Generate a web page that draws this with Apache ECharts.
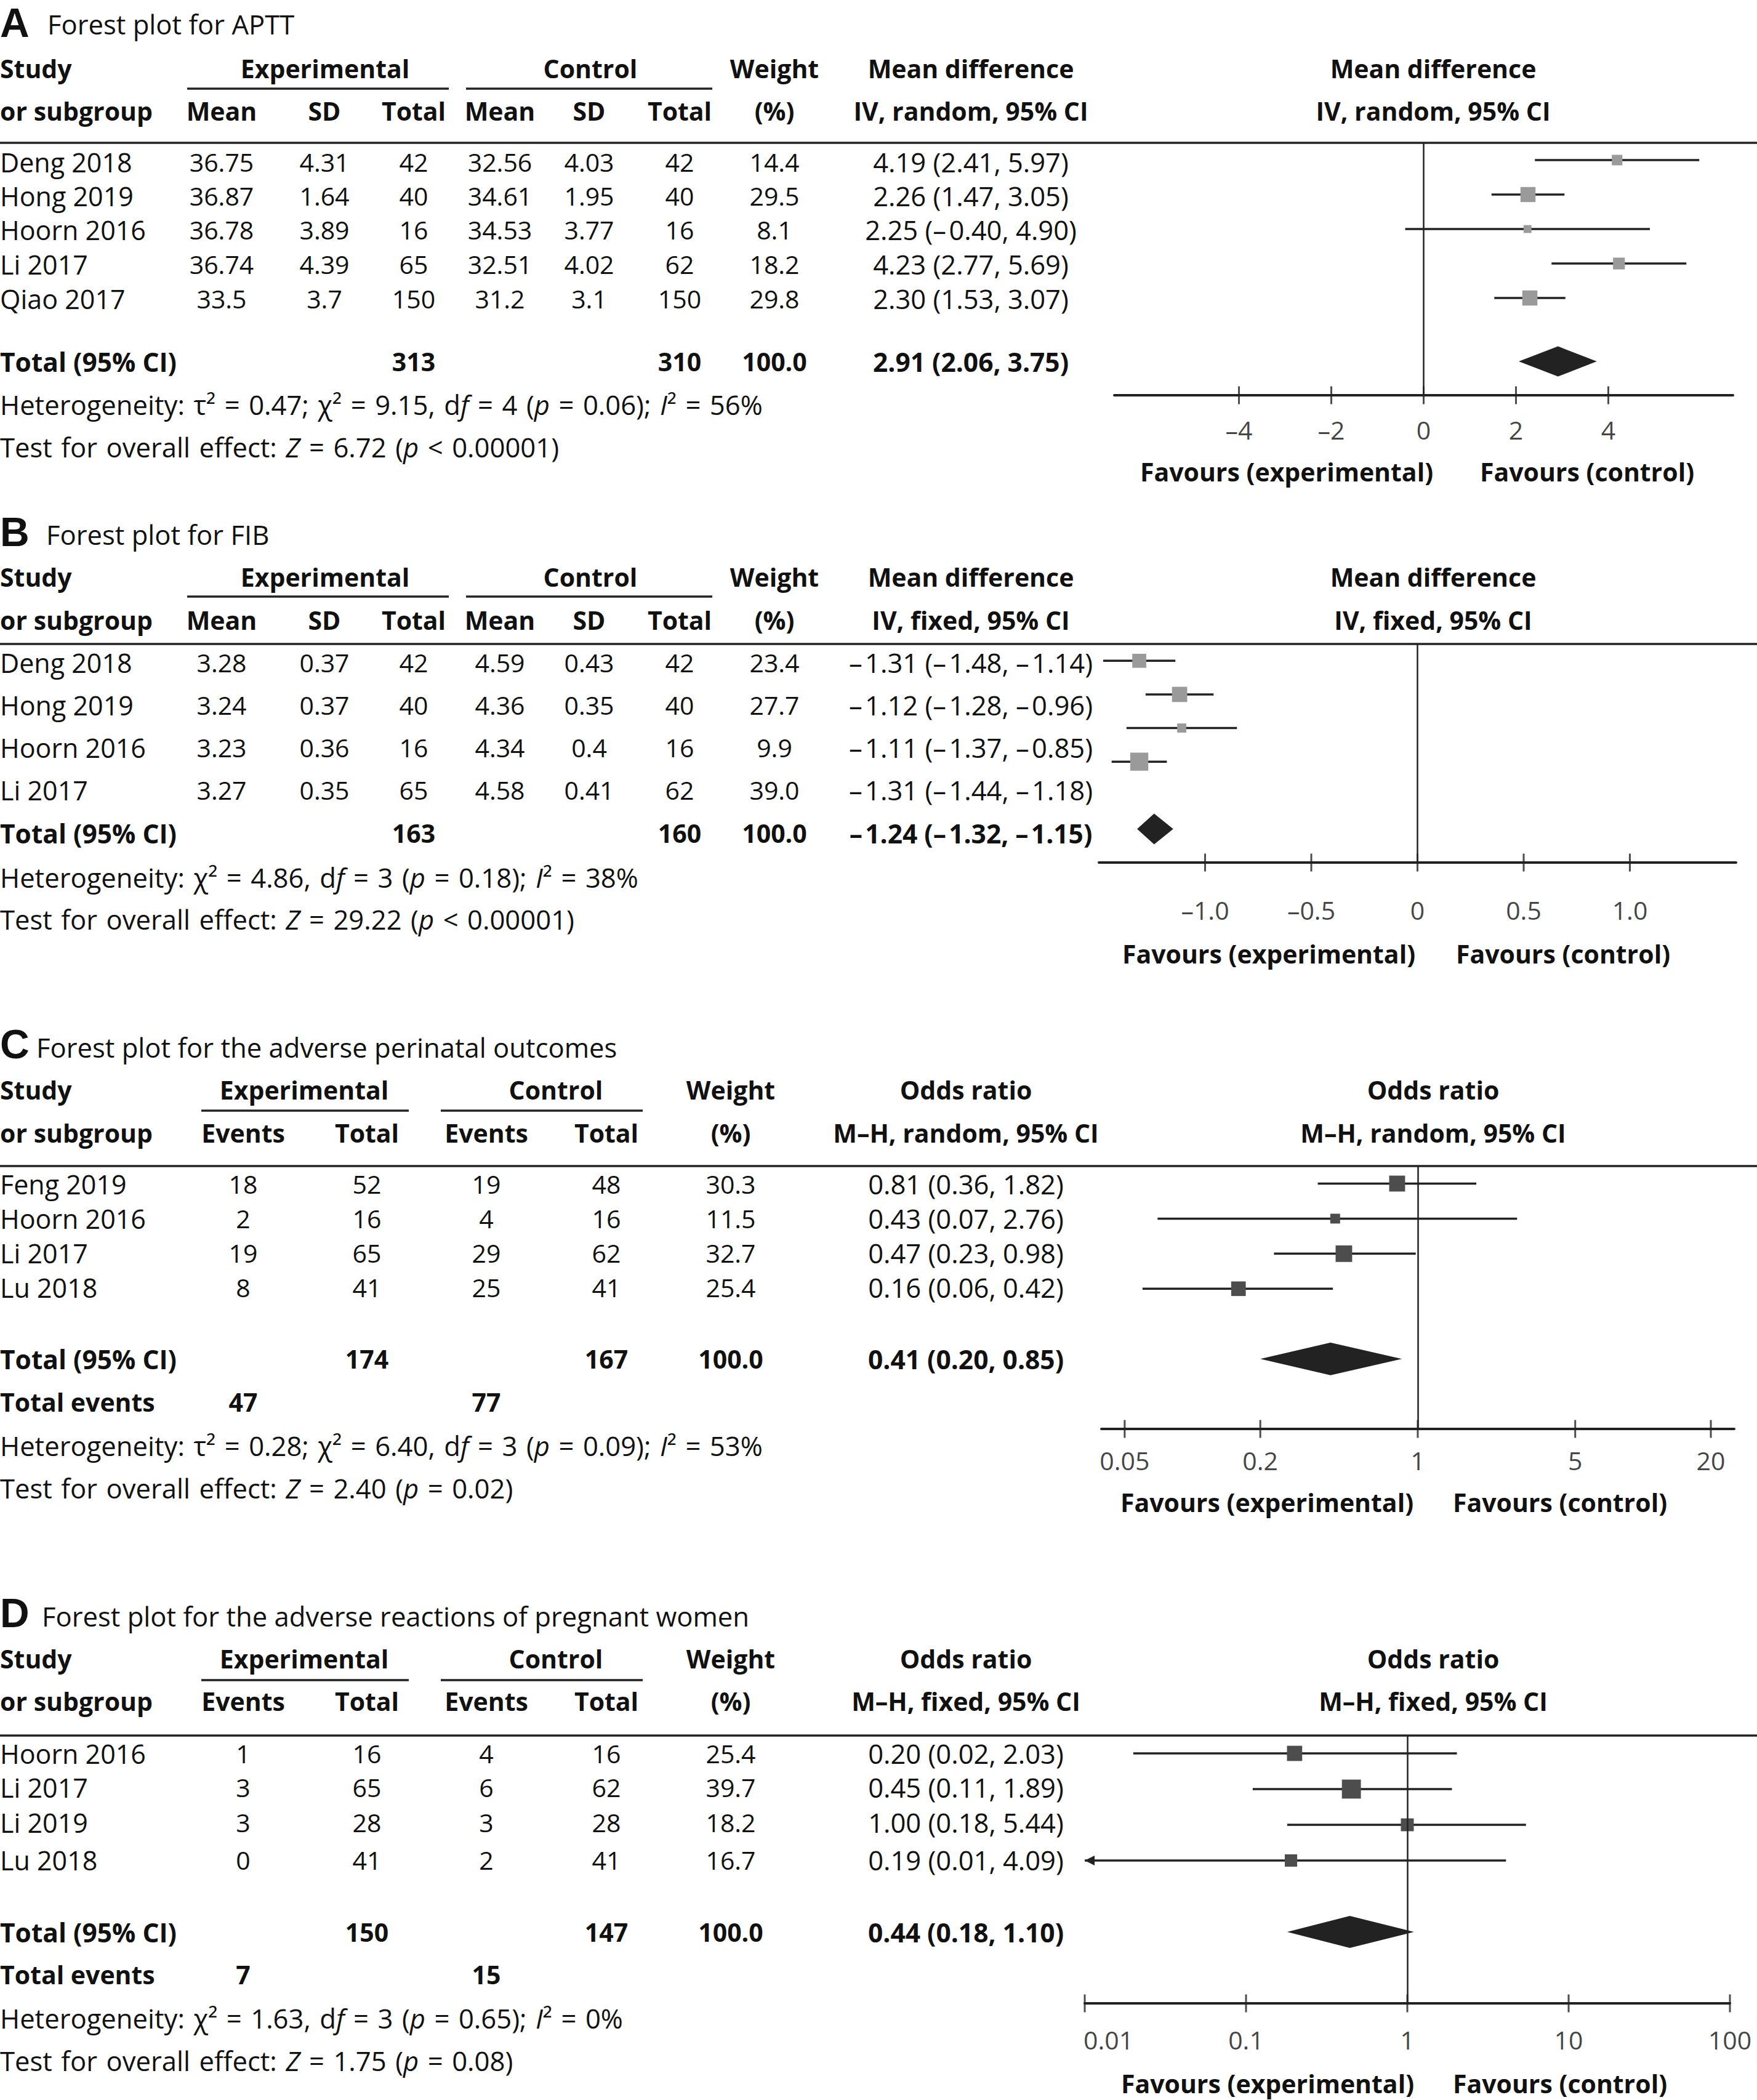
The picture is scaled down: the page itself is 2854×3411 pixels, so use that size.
<!DOCTYPE html>
<html lang="en">
<head>
<meta charset="utf-8">
<title>Forest plots</title>
<script src="https://cdn.jsdelivr.net/npm/echarts@6/dist/echarts.min.js"></script>
<style>
html,body{margin:0;padding:0;background:#fff;overflow:hidden}
#chart{width:2854px;height:3411px}
</style>
</head>
<body>
<div id="chart"></div>
<script>
// ================= DATA =================
// A — Forest plot for APTT (mean difference, IV, random)
const aStudies = ['Deng 2018', 'Hong 2019', 'Hoorn 2016', 'Li 2017', 'Qiao 2017'];
const aExpMean = [36.75, 36.87, 36.78, 36.74, 33.5];
const aExpSD   = [4.31, 1.64, 3.89, 4.39, 3.7];
const aExpN    = [42, 40, 16, 65, 150];
const aCtlMean = [32.56, 34.61, 34.53, 32.51, 31.2];
const aCtlSD   = [4.03, 1.95, 3.77, 4.02, 3.1];
const aCtlN    = [42, 40, 16, 62, 150];
const aWeight  = [14.4, 29.5, 8.1, 18.2, 29.8];
const aEst     = [4.19, 2.26, 2.25, 4.23, 2.30];
const aLo      = [2.41, 1.47, -0.40, 2.77, 1.53];
const aHi      = [5.97, 3.05, 4.90, 5.69, 3.07];
const aTotalCI = [2.91, 2.06, 3.75];
const aTotalN  = [313, 310];
const aHet  = 'Heterogeneity: τ² = 0.47; χ² = 9.15, d{i|f} = 4 ({i|p} = 0.06); {i|I}² = 56%';
const aTest = 'Test for overall effect: {i|Z} = 6.72 ({i|p} < 0.00001)';
const aTicks = [-4, -2, 0, 2, 4];
const aTickLabels = ['–4', '–2', '0', '2', '4'];

// B — Forest plot for FIB (mean difference, IV, fixed)
const bStudies = ['Deng 2018', 'Hong 2019', 'Hoorn 2016', 'Li 2017'];
const bExpMean = [3.28, 3.24, 3.23, 3.27];
const bExpSD   = [0.37, 0.37, 0.36, 0.35];
const bExpN    = [42, 40, 16, 65];
const bCtlMean = [4.59, 4.36, 4.34, 4.58];
const bCtlSD   = [0.43, 0.35, 0.4, 0.41];
const bCtlN    = [42, 40, 16, 62];
const bWeight  = [23.4, 27.7, 9.9, 39.0];
const bEst     = [-1.31, -1.12, -1.11, -1.31];
const bLo      = [-1.48, -1.28, -1.37, -1.44];
const bHi      = [-1.14, -0.96, -0.85, -1.18];
const bTotalCI = [-1.24, -1.32, -1.15];
const bTotalN  = [163, 160];
const bHet  = 'Heterogeneity: χ² = 4.86, d{i|f} = 3 ({i|p} = 0.18); {i|I}² = 38%';
const bTest = 'Test for overall effect: {i|Z} = 29.22 ({i|p} < 0.00001)';
const bTicks = [-1, -0.5, 0, 0.5, 1];
const bTickLabels = ['–1.0', '–0.5', '0', '0.5', '1.0'];

// C — adverse perinatal outcomes (odds ratio, M–H, random)
const cStudies = ['Feng 2019', 'Hoorn 2016', 'Li 2017', 'Lu 2018'];
const cExpEv   = [18, 2, 19, 8];
const cExpN    = [52, 16, 65, 41];
const cCtlEv   = [19, 4, 29, 25];
const cCtlN    = [48, 16, 62, 41];
const cWeight  = [30.3, 11.5, 32.7, 25.4];
const cEst     = [0.81, 0.43, 0.47, 0.16];
const cLo      = [0.36, 0.07, 0.23, 0.06];
const cHi      = [1.82, 2.76, 0.98, 0.42];
const cTotalCI = [0.41, 0.20, 0.85];
const cTotalN  = [174, 167];
const cTotalEv = [47, 77];
const cHet  = 'Heterogeneity: τ² = 0.28; χ² = 6.40, d{i|f} = 3 ({i|p} = 0.09); {i|I}² = 53%';
const cTest = 'Test for overall effect: {i|Z} = 2.40 ({i|p} = 0.02)';
const cTicks = [0.05, 0.2, 1, 5, 20];
const cTickLabels = ['0.05', '0.2', '1', '5', '20'];

// D — adverse reactions of pregnant women (odds ratio, M–H, fixed)
const dStudies = ['Hoorn 2016', 'Li 2017', 'Li 2019', 'Lu 2018'];
const dExpEv   = [1, 3, 3, 0];
const dExpN    = [16, 65, 28, 41];
const dCtlEv   = [4, 6, 3, 2];
const dCtlN    = [16, 62, 28, 41];
const dWeight  = [25.4, 39.7, 18.2, 16.7];
const dEst     = [0.20, 0.45, 1.00, 0.19];
const dLo      = [0.02, 0.11, 0.18, 0.01];
const dHi      = [2.03, 1.89, 5.44, 4.09];
const dTotalCI = [0.44, 0.18, 1.10];
const dTotalN  = [150, 147];
const dTotalEv = [7, 15];
const dHet  = 'Heterogeneity: χ² = 1.63, d{i|f} = 3 ({i|p} = 0.65); {i|I}² = 0%';
const dTest = 'Test for overall effect: {i|Z} = 1.75 ({i|p} = 0.08)';
const dTicks = [0.01, 0.1, 1, 10, 100];
const dTickLabels = ['0.01', '0.1', '1', '10', '100'];

// ================= STYLE & LAYOUT =================
const FONT = '"Open Sans", "Noto Sans", "DejaVu Sans", sans-serif';
const LETTER_FONT = '"Liberation Sans", Arial, sans-serif';
const FS = 41;          // table numbers, headers, tick labels
const FS_PROSE = 43.6;  // titles, heterogeneity / overall-effect lines
const FS_NAME = 43;     // study names
const FS_CI = 43.5;     // effect-size column
const INK = '#111111';
const DARK = '#222222';
const W = 2854;
const RIGHT_HEAD_X = 2328;

const MD_COLS = { x: [360, 527, 672, 812, 957, 1104], nIdx: [2, 5], evIdx: null,
  weight: 1258, effect: 1577, expHead: 528, ctlHead: 959, ulExp: [304, 729], ulCtl: [757, 1157],
  sub: ['Mean', 'SD', 'Total', 'Mean', 'SD', 'Total'] };
const OR_COLS = { x: [395, 596, 790, 985], nIdx: [1, 3], evIdx: [0, 2],
  weight: 1187, effect: 1569, expHead: 494, ctlHead: 903, ulExp: [327, 664], ulCtl: [716, 1044],
  sub: ['Events', 'Total', 'Events', 'Total'] };

const panels = [
  { letter: 'A', title: 'Forest plot for APTT', titleX: 77, cols: MD_COLS,
    effectName: 'Mean difference', method: 'IV, random, 95% CI',
    studies: aStudies, cells: [aExpMean, aExpSD, aExpN, aCtlMean, aCtlSD, aCtlN],
    weight: aWeight, est: aEst, lo: aLo, hi: aHi, totCI: aTotalCI, totN: aTotalN, totEv: null,
    het: aHet, test: aTest, ticks: aTicks, tickLabels: aTickLabels,
    lay: { title: 39, letterY: 37, h1: 111, ul: 144, h2: 180, rule: 232, rows: [263, 318, 373, 429, 485],
      total: 587, events: null, het: 657, test: 726, fav: [766, 2090, 2578] },
    plot: { grid: [1810, 232, 1005, 410], yMax: 6.82, totalRow: 5.84, xMin: -6.7, xMax: 6.7, log: false,
      ref: 0, sq: 4.5, sqColor: '#9a9a9a', dh: 49, tickDist: 21, firstLabelLeft: false } },
  { letter: 'B', title: 'Forest plot for FIB', titleX: 75, cols: MD_COLS,
    effectName: 'Mean difference', method: 'IV, fixed, 95% CI',
    studies: bStudies, cells: [bExpMean, bExpSD, bExpN, bCtlMean, bCtlSD, bCtlN],
    weight: bWeight, est: bEst, lo: bLo, hi: bHi, totCI: bTotalCI, totN: bTotalN, totEv: null,
    het: bHet, test: bTest, ticks: bTicks, tickLabels: bTickLabels,
    lay: { title: 868, letterY: 864, h1: 937, ul: 969, h2: 1007, rule: 1046, rows: [1076, 1145, 1214, 1283],
      total: 1353, events: null, het: 1425, test: 1493, fav: [1549, 2061, 2539] },
    plot: { grid: [1785, 1046, 1035, 355], yMax: 6, totalRow: 5, xMin: -1.5, xMax: 1.5, log: false,
      ref: 0, sq: 4.7, sqColor: '#9a9a9a', dh: 50, tickDist: 42, firstLabelLeft: false } },
  { letter: 'C', title: 'Forest plot for the adverse perinatal outcomes', titleX: 59, cols: OR_COLS,
    effectName: 'Odds ratio', method: 'M–H, random, 95% CI',
    studies: cStudies, cells: [cExpEv, cExpN, cCtlEv, cCtlN],
    weight: cWeight, est: cEst, lo: cLo, hi: cHi, totCI: cTotalCI, totN: cTotalN, totEv: cTotalEv,
    het: cHet, test: cTest, ticks: cTicks, tickLabels: cTickLabels,
    lay: { title: 1701, letterY: 1696, h1: 1770, ul: 1804, h2: 1840, rule: 1894, rows: [1923, 1979, 2035, 2091],
      total: 2207, events: 2277, het: 2348, test: 2417, fav: [2440, 2058, 2534] },
    plot: { grid: [1789, 1894, 1028, 427], yMax: 7, totalRow: 5, xMin: 0.0394, xMax: 25.4, log: true,
      ref: 1, sq: 4.7, sqColor: '#4d4d4d', dh: 53, tickDist: 16, firstLabelLeft: false } },
  { letter: 'D', title: 'Forest plot for the adverse reactions of pregnant women', titleX: 68, cols: OR_COLS,
    effectName: 'Odds ratio', method: 'M–H, fixed, 95% CI',
    studies: dStudies, cells: [dExpEv, dExpN, dCtlEv, dCtlN],
    weight: dWeight, est: dEst, lo: dLo, hi: dHi, totCI: dTotalCI, totN: dTotalN, totEv: dTotalEv,
    het: dHet, test: dTest, ticks: dTicks, tickLabels: dTickLabels,
    lay: { title: 2625, letterY: 2620, h1: 2694, ul: 2729, h2: 2763, rule: 2819, rows: [2848, 2903, 2960, 3021],
      total: 3138, events: 3207, het: 3278, test: 3347, fav: [3384, 2059, 2534] },
    plot: { grid: [1762, 2819, 1048, 435], yMax: 7, totalRow: 5, xMin: 0.01, xMax: 100, log: true,
      ref: 1, sq: 4.9, sqColor: '#4d4d4d', dh: 52, tickDist: 24, firstLabelLeft: true } }
];

// ================= HELPERS =================
function richFor(fs) {
  return { i: { fontStyle: 'italic', fontSize: fs, fontFamily: FONT, fill: INK } };
}
const graphics = [];
function T(x, y, text, o) {
  o = o || {};
  const al = o.align || 'center';
  const style = {
    text: String(text), fill: INK, fontSize: o.fs || FS, fontFamily: o.family || FONT,
    fontWeight: o.bold ? 'bold' : 'normal',
    align: al, verticalAlign: 'middle', textAlign: al, textVerticalAlign: 'middle'
  };
  if (o.rich) style.rich = o.rich;
  graphics.push({ type: 'text', x: x, y: y, silent: true, z: 10, style: style });
}
function L(x1, y1, x2, y2, w) {
  graphics.push({ type: 'line', silent: true, z: 10,
    shape: { x1: x1, y1: y1, x2: x2, y2: y2 }, style: { stroke: DARK, lineWidth: w || 3.5 } });
}
function f2(v) { return (v < 0 ? '–\u200A' : '') + Math.abs(v).toFixed(2); }
function ciText(e, l, h) { return f2(e) + ' (' + f2(l) + ', ' + f2(h) + ')'; }
function wideSpaces(s) { return s.replace(/ /g, '\u2004'); }

// ================= TABLES =================
panels.forEach(function (p) {
  const Ly = p.lay, C = p.cols;
  T(0, Ly.letterY, p.letter, { align: 'left', bold: true, fs: 66, family: LETTER_FONT });
  T(p.titleX, Ly.title, p.title, { align: 'left', fs: FS_PROSE });
  // header row 1
  T(0, Ly.h1, 'Study', { align: 'left', bold: true });
  T(C.expHead, Ly.h1, 'Experimental', { bold: true });
  T(C.ctlHead, Ly.h1, 'Control', { bold: true });
  T(C.weight, Ly.h1, 'Weight', { bold: true });
  T(C.effect, Ly.h1, p.effectName, { bold: true });
  T(RIGHT_HEAD_X, Ly.h1, p.effectName, { bold: true });
  L(C.ulExp[0], Ly.ul, C.ulExp[1], Ly.ul, 3.5);
  L(C.ulCtl[0], Ly.ul, C.ulCtl[1], Ly.ul, 3.5);
  // header row 2
  T(0, Ly.h2, 'or subgroup', { align: 'left', bold: true });
  C.sub.forEach(function (s, j) { T(C.x[j], Ly.h2, s, { bold: true }); });
  T(C.weight, Ly.h2, '(%)', { bold: true });
  T(C.effect, Ly.h2, p.method, { bold: true });
  T(RIGHT_HEAD_X, Ly.h2, p.method, { bold: true });
  L(0, Ly.rule, W, Ly.rule, 3.5);
  // study rows
  p.studies.forEach(function (s, k) {
    const y = Ly.rows[k];
    T(0, y, s, { align: 'left', fs: FS_NAME });
    p.cells.forEach(function (arr, j) { T(C.x[j], y, String(arr[k])); });
    T(C.weight, y, p.weight[k].toFixed(1));
    T(C.effect, y, ciText(p.est[k], p.lo[k], p.hi[k]), { fs: FS_CI });
  });
  // total rows
  T(0, Ly.total, 'Total (95% CI)', { align: 'left', bold: true, fs: 42.5 });
  T(C.x[C.nIdx[0]], Ly.total, String(p.totN[0]), { bold: true });
  T(C.x[C.nIdx[1]], Ly.total, String(p.totN[1]), { bold: true });
  T(C.weight, Ly.total, (100).toFixed(1), { bold: true });
  T(C.effect, Ly.total, ciText(p.totCI[0], p.totCI[1], p.totCI[2]), { bold: true, fs: 42.5 });
  if (p.totEv) {
    T(0, Ly.events, 'Total events', { align: 'left', bold: true });
    T(C.x[C.evIdx[0]], Ly.events, String(p.totEv[0]), { bold: true });
    T(C.x[C.evIdx[1]], Ly.events, String(p.totEv[1]), { bold: true });
  }
  T(0, Ly.het, wideSpaces(p.het), { align: 'left', fs: FS_PROSE, rich: richFor(FS_PROSE) });
  T(0, Ly.test, wideSpaces(p.test), { align: 'left', fs: FS_PROSE, rich: richFor(FS_PROSE) });
  // favours labels
  T(Ly.fav[1], Ly.fav[0], 'Favours (experimental)', { bold: true });
  T(Ly.fav[2], Ly.fav[0], 'Favours (control)', { bold: true });
});

// ================= PLOTS =================
const grids = [], xAxes = [], yAxes = [], series = [];
panels.forEach(function (p, i) {
  const P = p.plot;
  grids.push({ left: P.grid[0], top: P.grid[1], width: P.grid[2], height: P.grid[3],
    containLabel: false, outerBoundsMode: 'none' });
  xAxes.push({ gridIndex: i, type: P.log ? 'log' : 'value', logBase: 10, min: P.xMin, max: P.xMax,
    position: 'bottom',
    axisLine: { show: true, onZero: false, lineStyle: { color: DARK, width: 4 } },
    axisTick: { show: false }, axisLabel: { show: false }, splitLine: { show: false } });
  yAxes.push({ gridIndex: i, type: 'value', inverse: true, min: -0.5, max: P.yMax, show: false,
    splitLine: { show: false } });

  // study CIs and weighted squares
  series.push({
    type: 'custom', xAxisIndex: i, yAxisIndex: i, silent: true, clip: false, z: 3,
    encode: { x: [0, 1, 2], y: 3 },
    data: p.est.map(function (e, k) { return [e, p.lo[k], p.hi[k], k, p.weight[k]]; }),
    renderItem: function (params, api) {
      const row = api.value(3), lo = api.value(1);
      const pl = api.coord([lo, row]);
      const ph = api.coord([api.value(2), row]);
      const pe = api.coord([api.value(0), row]);
      const side = P.sq * Math.sqrt(api.value(4));
      const kids = [
        { type: 'line', shape: { x1: pl[0], y1: pl[1], x2: ph[0], y2: ph[1] },
          style: { stroke: DARK, lineWidth: 3.5 } },
        { type: 'rect', shape: { x: pe[0] - side / 2, y: pe[1] - side / 2, width: side, height: side },
          style: { fill: P.sqColor } }
      ];
      if (lo <= P.xMin * (P.log ? 1.0001 : 1)) {
        kids.push({ type: 'polygon', shape: { points: [[pl[0], pl[1]], [pl[0] + 16, pl[1] - 8], [pl[0] + 16, pl[1] + 8]] },
          style: { fill: DARK } });
      }
      return { type: 'group', children: kids };
    }
  });

  // pooled diamond
  series.push({
    type: 'custom', xAxisIndex: i, yAxisIndex: i, silent: true, clip: false, z: 3,
    encode: { x: [0, 1, 2], y: 3 },
    data: [[p.totCI[0], p.totCI[1], p.totCI[2], P.totalRow]],
    renderItem: function (params, api) {
      const row = api.value(3);
      const e = api.coord([api.value(0), row]);
      const l = api.coord([api.value(1), row]);
      const h = api.coord([api.value(2), row]);
      return { type: 'polygon',
        shape: { points: [[l[0], l[1]], [e[0], e[1] - P.dh / 2], [h[0], h[1]], [e[0], e[1] + P.dh / 2]] },
        style: { fill: DARK } };
    }
  });

  // axis ticks crossing the axis line, with their labels, plus the line of no effect
  series.push({
    type: 'scatter', xAxisIndex: i, yAxisIndex: i, silent: true, clip: false, z: 4,
    symbol: 'rect', symbolSize: [3, 29], itemStyle: { color: DARK },
    emphasis: { disabled: true },
    data: p.ticks.map(function (v, k) {
      const item = { value: [v, P.yMax] };
      if (k === 0 && P.firstLabelLeft) item.label = { align: 'left', offset: [-2, 0] };
      return item;
    }),
    label: { show: true, position: 'bottom', distance: P.tickDist,
      formatter: function (q) { return p.tickLabels[q.dataIndex]; },
      color: INK, fontSize: FS, fontFamily: FONT, fontWeight: 'normal' },
    markLine: { silent: true, symbol: ['none', 'none'], label: { show: false },
      lineStyle: { color: DARK, width: 2.5, type: 'solid' }, emphasis: { disabled: true },
      data: [{ xAxis: P.ref }] }
  });
});

const chart = echarts.init(document.getElementById('chart'), null, { renderer: 'svg', width: 2854, height: 3411 });
chart.setOption({
  backgroundColor: '#ffffff',
  animation: false,
  textStyle: { fontFamily: FONT },
  grid: grids, xAxis: xAxes, yAxis: yAxes, series: series,
  graphic: { elements: graphics }
});
</script>
</body>
</html>
